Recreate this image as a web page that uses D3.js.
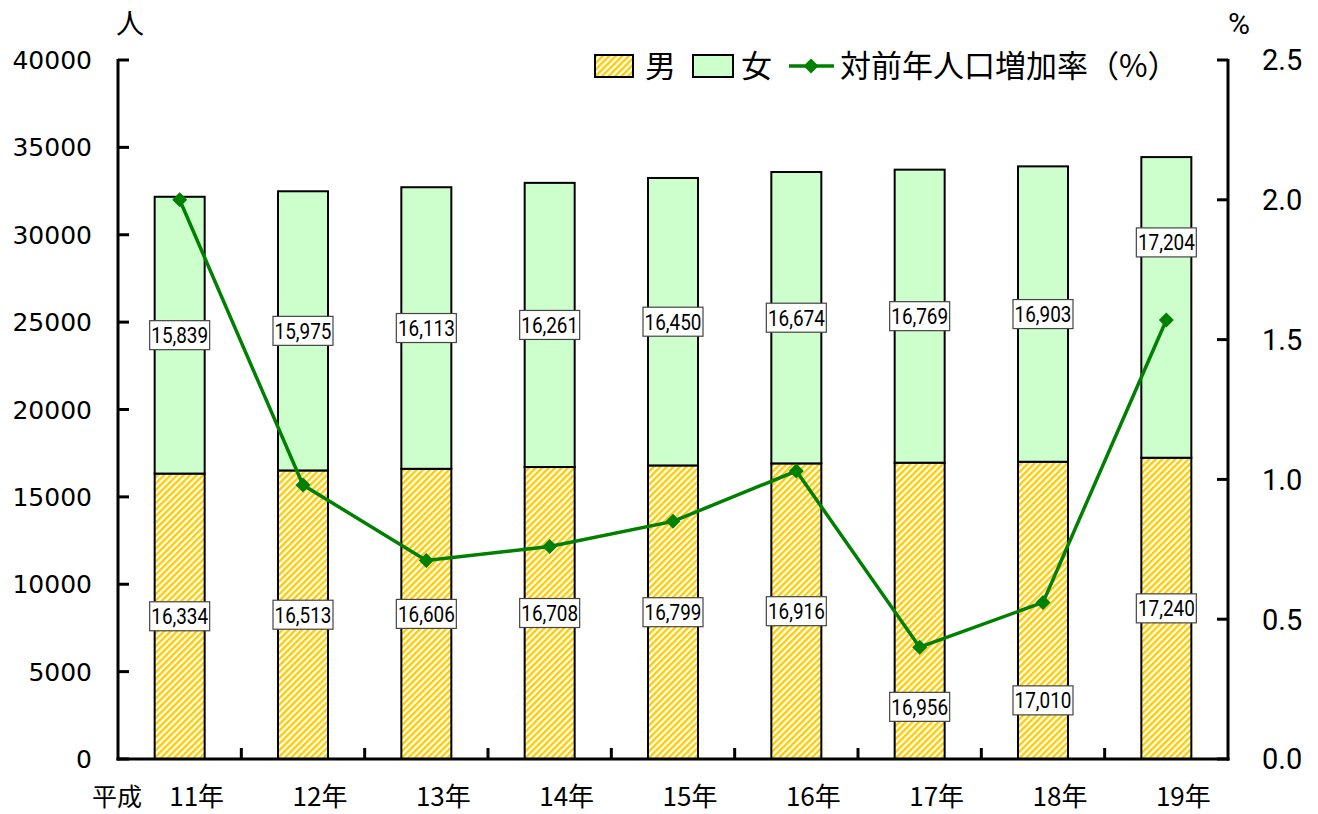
<!DOCTYPE html>
<html><head><meta charset="utf-8">
<script src="https://cdn.jsdelivr.net/npm/d3@7"></script>
<style>
html,body{margin:0;padding:0;background:#fff;}
svg{display:block;}
</style></head>
<body>
<svg id="chart" width="1318" height="814"></svg>
<script>
// ---- data ----
const years = ["11年","12年","13年","14年","15年","16年","17年","18年","19年"];
const male = [16334,16513,16606,16708,16799,16916,16956,17010,17240];
const female = [15839,15975,16113,16261,16450,16674,16769,16903,17204];
const rate = [2.00,0.98,0.71,0.76,0.85,1.03,0.40,0.56,1.57];
const leftTicks = [0,5000,10000,15000,20000,25000,30000,35000,40000];
const rightTicks = [0.0,0.5,1.0,1.5,2.0,2.5];
const legendLabels = ["男","女","対前年人口増加率（%）"];

// ---- layout ----
const svg = d3.select("#chart");
const L = 118, R = 1228, T = 60, B = 759;
const x = d3.scaleBand().domain(years).range([L, R]).paddingInner(0).paddingOuter(0);
const y = d3.scaleLinear().domain([0, 40000]).range([B, T]);
const y2 = d3.scaleLinear().domain([0, 2.5]).range([B, T]);
const barW = 50;
const cx = d => x(d) + x.bandwidth()/2;

// manual label nudges (pixels) to avoid overlapping the line
const maleNudge = {6: 96, 7: 90};
const femaleNudge = {8: -65};

const defs = svg.append("defs");
const pat = defs.append("pattern").attr("id","hatch")
  .attr("patternUnits","userSpaceOnUse").attr("width",4.6).attr("height",4.6)
  .attr("patternTransform","rotate(45)");
pat.append("rect").attr("width",4.6).attr("height",4.6).attr("fill","#ffffff");
pat.append("rect").attr("width",2.4).attr("height",4.6).attr("fill","#ffcc00");

const jp = "'Noto Sans CJK JP','Noto Sans',sans-serif";
const sans = "Roboto,'Liberation Sans',sans-serif";

// bars
const g = svg.append("g");
years.forEach((yr,i)=>{
  const x0 = cx(yr) - barW/2;
  g.append("rect").attr("x",x0).attr("y",y(male[i])).attr("width",barW)
    .attr("height",y(0)-y(male[i])).attr("fill","url(#hatch)")
    .attr("stroke","#000").attr("stroke-width",2);
  g.append("rect").attr("x",x0).attr("y",y(male[i]+female[i])).attr("width",barW)
    .attr("height",y(male[i])-y(male[i]+female[i])).attr("fill","#ccffcc")
    .attr("stroke","#000").attr("stroke-width",2);
});

// axes
const axG = svg.append("g");
axG.append("line").attr("x1",L).attr("x2",L).attr("y1",T-1).attr("y2",B+1.5).attr("stroke","#000").attr("stroke-width",3);
axG.append("line").attr("x1",R).attr("x2",R).attr("y1",T-1).attr("y2",B+1.5).attr("stroke","#000").attr("stroke-width",3);
axG.append("line").attr("x1",L-1.5).attr("x2",R+1.5).attr("y1",B).attr("y2",B).attr("stroke","#000").attr("stroke-width",3);

leftTicks.forEach(t=>{
  axG.append("line").attr("x1",L).attr("x2",L+11).attr("y1",y(t)).attr("y2",y(t)).attr("stroke","#000").attr("stroke-width",3);
  axG.append("text").attr("x",92).attr("y",y(t)).attr("dy","0.36em")
    .attr("text-anchor","end").attr("font-family","'DejaVu Sans',sans-serif")
    .attr("font-size",25).attr("fill","#000").text(t);
});
rightTicks.forEach(t=>{
  axG.append("line").attr("x1",R).attr("x2",R-11).attr("y1",y2(t)).attr("y2",y2(t)).attr("stroke","#000").attr("stroke-width",3);
  axG.append("text").attr("x",1262).attr("y",y2(t)).attr("dy","0.36em")
    .attr("text-anchor","start").attr("font-family",sans)
    .attr("font-size",29).attr("fill","#000").text(d3.format(".1f")(t));
});
// category separator ticks
years.forEach((yr,i)=>{
  if(i===0) return;
  axG.append("line").attr("x1",x(yr)).attr("x2",x(yr)).attr("y1",B).attr("y2",B-11).attr("stroke","#000").attr("stroke-width",3);
});
// category labels
years.forEach(yr=>{
  axG.append("text").attr("x",cx(yr)+17).attr("y",797).attr("dy","0.36em")
    .attr("text-anchor","middle").attr("font-family",jp).attr("font-size",26).text(yr);
});
axG.append("text").attr("x",92).attr("y",797).attr("dy","0.36em").attr("font-family",jp).attr("font-size",25).text("平成");
axG.append("text").attr("x",116).attr("y",24).attr("dy","0.36em").attr("font-family",jp).attr("font-size",28).text("人");
axG.append("text").attr("x",1228).attr("y",23).attr("dy","0.36em").attr("font-family",sans).attr("font-size",30).text("%");

// line
const lg = svg.append("g");
const line = d3.line().x((d,i)=>cx(years[i])).y(d=>y2(d));
lg.append("path").datum(rate).attr("d",line).attr("fill","none").attr("stroke","#008000").attr("stroke-width",3.5);
const diamond = s => `M0,${-s}L${s},0L0,${s}L${-s},0Z`;
rate.forEach((r,i)=>{
  lg.append("path").attr("d",diamond(7.5)).attr("transform",`translate(${cx(years[i])},${y2(r)})`).attr("fill","#008000");
});

// value labels
const lab = svg.append("g");
function valLabel(xc, yc, v){
  const w = 60, h = 29;
  lab.append("rect").attr("x",xc-w/2).attr("y",yc-h/2).attr("width",w).attr("height",h)
    .attr("fill","#fff").attr("stroke","#444").attr("stroke-width",1.2);
  lab.append("text").attr("transform",`translate(${xc},${yc}) scale(0.86,1)`).attr("dy","0.36em").attr("text-anchor","middle")
    .attr("font-family",sans).attr("font-size",22)
    .attr("fill","#000").text(d3.format(",")(v));
}
years.forEach((yr,i)=>{
  valLabel(cx(yr), y(male[i]/2) + (maleNudge[i]||0), male[i]);
  valLabel(cx(yr), y(male[i]+female[i]/2) + (femaleNudge[i]||0), female[i]);
});

// legend
const leg = svg.append("g").attr("font-family",jp).attr("font-size",31);
leg.append("rect").attr("x",595).attr("y",55).attr("width",38).attr("height",22).attr("fill","url(#hatch)").attr("stroke","#000").attr("stroke-width",2);
leg.append("text").attr("x",645).attr("y",66).attr("dy","0.36em").text(legendLabels[0]);
leg.append("rect").attr("x",693).attr("y",55).attr("width",40).attr("height",22).attr("fill","#ccffcc").attr("stroke","#000").attr("stroke-width",2);
leg.append("text").attr("x",741).attr("y",66).attr("dy","0.36em").text(legendLabels[1]);
leg.append("line").attr("x1",789).attr("x2",834).attr("y1",66).attr("y2",66).attr("stroke","#008000").attr("stroke-width",3.5);
leg.append("path").attr("d",diamond(7.5)).attr("transform","translate(811,66)").attr("fill","#008000");
leg.append("text").attr("x",840).attr("y",66).attr("dy","0.36em").text(legendLabels[2]);
</script>
</body></html>
